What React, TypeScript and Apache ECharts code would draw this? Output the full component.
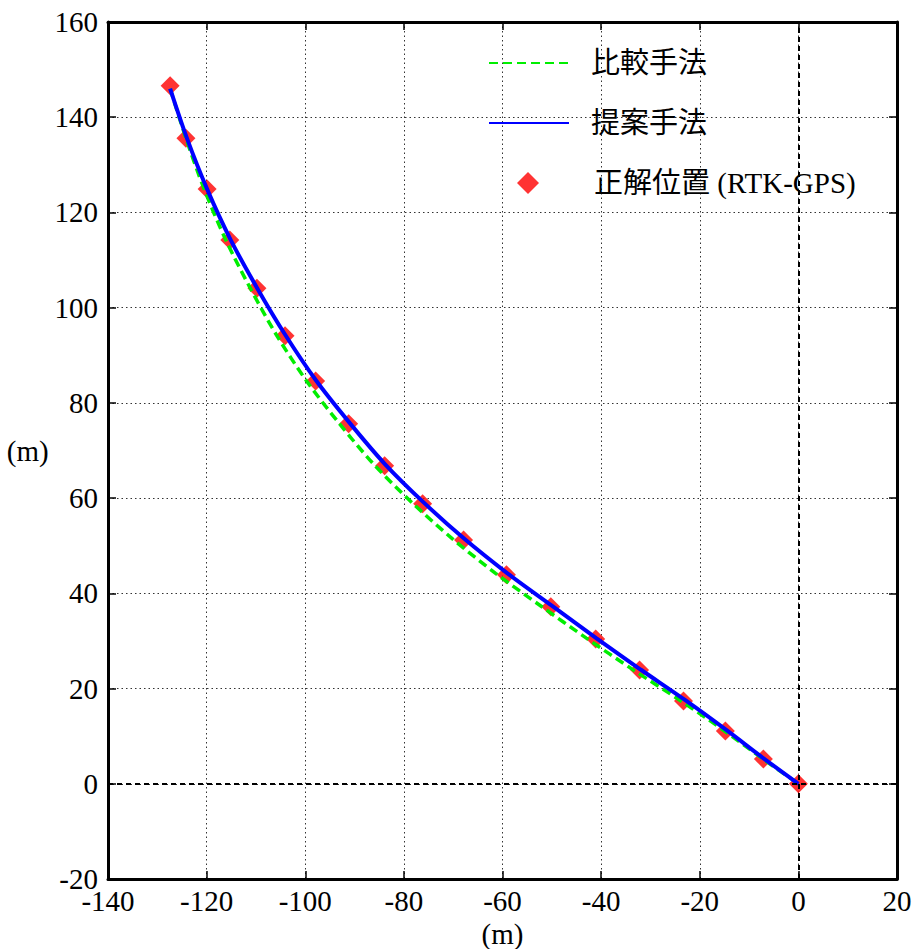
import React, { useEffect, useRef } from "react";
import * as echarts from "echarts";

const xTicks = { min: -140, max: 20, interval: 20 };
const yTicks = { min: -20, max: 160, interval: 20 };

const seriesNames = ["比較手法", "提案手法", "正解位置 (RTK-GPS)"];

// Ground truth (RTK-GPS)
const truthX = [-127.4, -124.2, -119.9, -115.3, -109.8, -104.1, -97.9, -91.2, -83.9, -76.2, -67.9, -59.2, -50.2, -41.1, -32.2, -23.3, -14.8, -7.1, 0];
const truthY = [146.6, 135.6, 124.9, 114.2, 104.1, 94.1, 84.6, 75.6, 66.8, 58.8, 51.2, 43.9, 37.2, 30.4, 23.9, 17.4, 11.1, 5.2, 0];

// Proposed method
const proposedX = [-127.4, -124.0, -119.9, -115.1, -109.8, -104.0, -97.8, -91.0, -83.8, -76.0, -67.8, -59.0, -50.0, -41.0, -32.0, -23.0, -14.5, -7.0, 0];
const proposedY = [146.0, 135.6, 124.9, 114.2, 104.2, 94.2, 84.7, 75.8, 67.1, 59.1, 51.5, 44.2, 37.4, 30.6, 24.0, 17.6, 11.2, 5.3, 0];

// Comparison method
const compareX = [-127.4, -124.2, -120.5, -116.1, -111.2, -105.8, -99.8, -93.2, -86.1, -78.4, -70.2, -61.4, -52.3, -43.0, -33.6, -24.1, -15.1, -7.3, 0];
const compareY = [146.0, 135.6, 124.9, 114.2, 104.2, 94.2, 84.7, 75.8, 67.1, 59.1, 51.5, 44.2, 37.4, 30.6, 24.0, 17.6, 11.2, 5.3, 0];

const zip = (xs: number[], ys: number[]) => xs.map((x, i) => [x, ys[i]]);

const FONT = "'Liberation Serif', 'Noto Sans CJK JP', serif";

export default function App() {
  const ref = useRef<HTMLDivElement>(null);
  useEffect(() => {
    if (!ref.current) return;
    const chart = echarts.init(ref.current, undefined, { renderer: "svg" });
    const axisLine = { show: true, onZero: false, lineStyle: { color: "#000", width: 3 } };
    const axisTick = { show: true, inside: true, length: 8, lineStyle: { color: "#000", width: 1.5 } };
    const splitLine = { show: true, lineStyle: { color: "#333", width: 1, type: [1.5, 3] as any } };
    const label = { color: "#000", fontSize: 29, fontFamily: FONT };
    const legendText = { fontSize: 29, lineHeight: 30, fontFamily: FONT, color: "#000" };
    chart.setOption({
      animation: false,
      backgroundColor: "#fff",
      grid: { left: 108, right: 24, top: 22, bottom: 70, containLabel: false, outerBoundsMode: "none" },
      legend: [
        {
          orient: "vertical",
          left: 483,
          top: 43,
          itemWidth: 80,
          itemHeight: 16,
          itemGap: 30,
          data: [
            { name: seriesNames[0], itemStyle: { color: "transparent", opacity: 0 } },
            { name: seriesNames[1], itemStyle: { color: "transparent", opacity: 0 } },
          ],
          textStyle: { ...legendText, padding: [0, 0, 0, 17] },
        },
        {
          orient: "vertical",
          left: 512,
          top: 163,
          itemWidth: 22,
          itemHeight: 22,
          data: [{ name: seriesNames[2], icon: "diamond" }],
          textStyle: { ...legendText, padding: [0, 0, 0, 50] },
        },
      ],
      xAxis: [
        {
          type: "value", ...xTicks, position: "bottom",
          axisLine, axisTick, splitLine,
          axisLabel: { ...label, margin: 7 },
          name: "(m)", nameLocation: "middle", nameGap: 28,
          nameTextStyle: { ...label },
        },
        {
          type: "value", ...xTicks, position: "top",
          axisLine, axisTick, splitLine: { show: false }, axisLabel: { show: false },
        },
      ],
      yAxis: [
        {
          type: "value", ...yTicks, position: "left",
          axisLine, axisTick, splitLine,
          axisLabel: { ...label, margin: 10 },
          name: "(m)", nameLocation: "middle", nameGap: 48, nameRotate: 0,
          nameTextStyle: { ...label, align: "right", verticalAlign: "middle" },
        },
        {
          type: "value", ...yTicks, position: "right",
          axisLine, axisTick, splitLine: { show: false }, axisLabel: { show: false },
        },
      ],
      series: [
        {
          name: seriesNames[2],
          type: "scatter",
          symbol: "diamond",
          symbolSize: 19,
          itemStyle: { color: "#ff0000" },
          data: zip(truthX, truthY),
          z: 2,
          markLine: {
            silent: true,
            symbol: ["none", "none"],
            label: { show: false },
            lineStyle: { color: "#000", width: 2, type: [5, 4] as any },
            data: [{ xAxis: 0 }, { yAxis: 0 }],
          },
        },
        {
          name: seriesNames[0],
          type: "line",
          showSymbol: false,
          symbol: "none",
          smooth: 0.3,
          lineStyle: { color: "#00ee00", width: 3.5, type: [9, 5] as any },
          itemStyle: { color: "#00ee00" },
          data: zip(compareX, compareY),
          z: 3,
        },
        {
          name: seriesNames[1],
          type: "line",
          showSymbol: false,
          symbol: "none",
          smooth: 0.3,
          lineStyle: { color: "#0000ff", width: 4 },
          itemStyle: { color: "#0000ff" },
          data: zip(proposedX, proposedY),
          z: 4,
        },
      ],
    });
    return () => chart.dispose();
  }, []);
  return (
    <div
      ref={ref}
      style={{ position: "absolute", left: 0, top: 0, width: 921, height: 949, background: "#fff" }}
    />
  );
}
